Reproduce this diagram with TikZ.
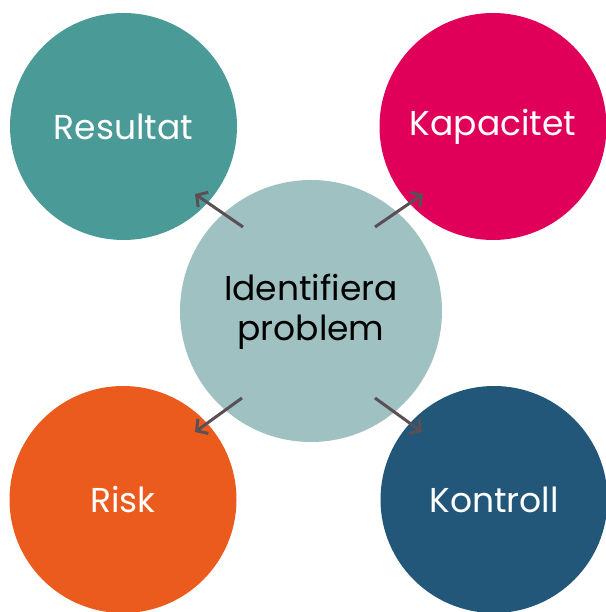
\documentclass[tikz,border=0pt]{standalone}
\usepackage{fontspec}
\setmainfont{Poppins}
\usetikzlibrary{arrows.meta}
\definecolor{cteal}{HTML}{4A9A98}
\definecolor{cpink}{HTML}{E0005A}
\definecolor{ccenter}{HTML}{A0C1C2}
\definecolor{corange}{HTML}{EC5B1E}
\definecolor{cblue}{HTML}{22577A}
\definecolor{carrow}{HTML}{5A4F55}
\begin{document}
\begin{tikzpicture}[x=1pt,y=1pt,
  outer/.style={circle,minimum size=227pt,inner sep=0pt,text=white,font=\fontsize{34.5}{37}\selectfont},
  inner/.style={circle,minimum size=262pt,inner sep=0pt,fill=ccenter,text=black,align=center,font=\fontsize{34.5}{40}\selectfont},
  arr/.style={draw=carrow,line width=3pt,-{Straight Barb[length=8pt,width=18pt,line width=3pt]}}]
\useasboundingbox (0,0) rectangle (605,612);
\node[outer,fill=cteal] (res) at (123.5,485.5) {Resultat};
\node[outer,fill=cpink] (kap) at (493,485.5) {Kapacitet};
\node[outer,fill=corange] (risk) at (123,112.5) {Risk};
\node[outer,fill=cblue] (kon) at (494,112.5) {Kontroll};
\node[circle,minimum size=262pt,inner sep=0pt,fill=ccenter] (mid) at (311,301) {};
\node[inner,minimum size=0pt,fill=none] (midtxt) at (311,300) {Identifiera\\problem};
\coordinate (a1) at (243,385);
\coordinate (b1) at (195,418);
\coordinate (a2) at (375,385);
\coordinate (b2) at (423,418);
\coordinate (a3) at (242,214);
\coordinate (b3) at (195,180);
\coordinate (a4) at (375,214);
\coordinate (b4) at (422,180);
\draw[arr] (a1) -- (b1);
\draw[arr] (a2) -- (b2);
\draw[arr] (a3) -- (b3);
\draw[arr] (a4) -- (b4);
\end{tikzpicture}
\end{document}
